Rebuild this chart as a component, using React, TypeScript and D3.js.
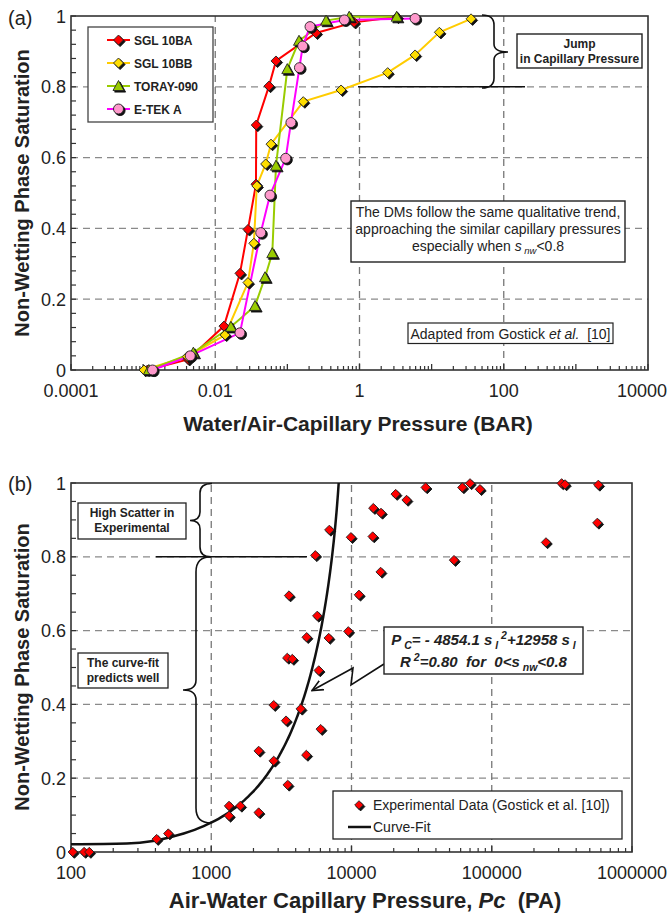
import React from "react";
import * as d3 from "d3";

const FONT = "'Liberation Sans', Arial, Helvetica, sans-serif";

// ---------- Panel (a): drainage curves of four diffusion media (pressure in bar) ----------
const aXTickValues = [1e-4, 1e-2, 1, 1e2, 1e4];
const aXTickLabels = ["0.0001", "0.01", "1", "100", "10000"];
const yTickValues = [0, 0.2, 0.4, 0.6, 0.8, 1];
const yTickLabels = ["0", "0.2", "0.4", "0.6", "0.8", "1"];

const sgl10baP = [0.00115, 0.0042, 0.0132, 0.022, 0.0284, 0.0367, 0.037, 0.0556, 0.0695, 0.249, 0.84, 3.3];
const sgl10baS = [0, 0.03, 0.124, 0.273, 0.397, 0.525, 0.692, 0.802, 0.873, 0.952, 0.982, 0.997];

const sgl10bbP = [0.00103, 0.0041, 0.0137, 0.0284, 0.0343, 0.0377, 0.05, 0.0593, 0.166, 0.555, 2.46, 5.9, 12.8, 35.2];
const sgl10bbS = [0, 0.038, 0.099, 0.247, 0.358, 0.52, 0.582, 0.638, 0.758, 0.791, 0.84, 0.89, 0.954, 0.992];

const toray090P = [0.0012, 0.00497, 0.0165, 0.0356, 0.049, 0.0618, 0.0695, 0.0998, 0.145, 0.344, 0.72, 3.28];
const toray090S = [0, 0.049, 0.122, 0.181, 0.262, 0.33, 0.577, 0.85, 0.93, 0.987, 0.998, 0.998];

const etekAP = [0.00135, 0.0045, 0.022, 0.0427, 0.0574, 0.0948, 0.112, 0.147, 0.163, 0.206, 0.617, 5.9];
const etekAS = [0, 0.04, 0.105, 0.388, 0.494, 0.598, 0.699, 0.854, 0.915, 0.97, 0.989, 0.993];

const seriesNames = ["SGL 10BA", "SGL 10BB", "TORAY-090", "E-TEK A"];
const seriesP = [sgl10baP, sgl10bbP, toray090P, etekAP];
const seriesS = [sgl10baS, sgl10bbS, toray090S, etekAS];
const seriesLine = ["#ff0000", "#ffcc00", "#99cc00", "#ff00ff"];
const seriesFill = ["#ff0000", "#ffdd00", "#99cc00", "#ff99cc"];
const seriesShape = ["diamond", "diamond", "triangle", "circle"];

// ---------- Panel (b): experimental points and quadratic curve-fit (pressure in Pa) ----------
const bXTickValues = [100, 1000, 10000, 100000, 1000000];
const bXTickLabels = ["100", "1000", "10000", "100000", "1000000"];

const expP = [103, 124, 135, 408, 494, 1339, 1339, 1611, 2178, 2178, 2788, 2788, 3508, 3413, 4344,
  4763, 6030, 5838, 3483, 3784, 4790, 6876, 9490, 5700, 3585, 11300, 16130, 5520, 6950, 9910,
  14160, 14310, 16230, 20650, 24700, 33800, 53800, 61700, 70000, 82400, 243600, 315000, 333000,
  566000, 575000];
const expS = [0, 0, 0, 0.035, 0.05, 0.125, 0.098, 0.125, 0.107, 0.274, 0.247, 0.398, 0.182, 0.356, 0.388,
  0.263, 0.333, 0.492, 0.526, 0.523, 0.582, 0.58, 0.598, 0.64, 0.695, 0.697, 0.759, 0.804, 0.873, 0.853,
  0.855, 0.932, 0.919, 0.97, 0.954, 0.988, 0.791, 0.988, 0.999, 0.983, 0.839, 0.999, 0.996,
  0.892, 0.995];

// Pc = fitA * s^2 + fitB * s
const fitA = -4854.1;
const fitB = 12958;
const fitTailP = [100, 250];
const fitTailS = [0.021, 0.023];
const fitS = d3.range(0.03, 1.0001, 0.01);

function logTicks(lo: number, hi: number) {
  const major: number[] = [];
  const minor: number[] = [];
  for (let e = lo; e < hi; e++) {
    major.push(10 ** e);
    for (let k = 2; k < 10; k++) minor.push(k * 10 ** e);
  }
  major.push(10 ** hi);
  return { major, minor };
}

function MarkerShape({ shape, x, y, fill, r = 5 }: { shape: string; x: number; y: number; fill: string; r?: number }) {
  const body = (dx: number, dy: number, f: string, stroke: string) => {
    if (shape === "circle") return <circle cx={x + dx} cy={y + dy} r={r} fill={f} stroke={stroke} strokeWidth={0.9} />;
    let d = "";
    if (shape === "diamond") d = `M0,${-r}L${r},0L0,${r}L${-r},0Z`;
    else d = `M0,${-r * 1.1}L${r * 1.1},${r * 0.9}L${-r * 1.1},${r * 0.9}Z`;
    return <path d={d} transform={`translate(${x + dx},${y + dy})`} fill={f} stroke={stroke} strokeWidth={0.9} />;
  };
  return (
    <g>
      {body(1.6, 1.6, "#111", "#111")}
      {body(0, 0, fill, "#222")}
    </g>
  );
}

function Axes({ x, y, xTicks, xLabels, yMinorStep, decades, gridX }: any) {
  const [x0, x1] = x.range();
  const [y0, y1] = y.range();
  const { major, minor } = logTicks(decades[0], decades[1]);
  const yMinor = d3.range(0, 1.0001, yMinorStep);
  return (
    <g>
      {/* grid */}
      {[0.2, 0.4, 0.6, 0.8].map((v) => (
        <line key={"gy" + v} x1={x0} x2={x1} y1={y(v)} y2={y(v)} stroke="#8a8a8a" strokeWidth={1.3} strokeDasharray="7,5" />
      ))}
      {gridX.map((v: number) => (
        <line key={"gx" + v} x1={x(v)} x2={x(v)} y1={y0} y2={y1} stroke="#777" strokeWidth={1.3} strokeDasharray="7,5" />
      ))}
      {/* ticks */}
      {minor.map((v) => (
        <line key={"mx" + v} x1={x(v)} x2={x(v)} y1={y0} y2={y0 - 4} stroke="#333" strokeWidth={1.2} />
      ))}
      {major.map((v) => (
        <line key={"Mx" + v} x1={x(v)} x2={x(v)} y1={y0} y2={y0 - 6} stroke="#333" strokeWidth={1.3} />
      ))}
      {yMinor.map((v: number) => (
        <line key={"my" + v} x1={x0} x2={x0 + 5} y1={y(v)} y2={y(v)} stroke="#333" strokeWidth={1.2} />
      ))}
      {/* labels: the last one is kept inside the page edge */}
      {xTicks.map((v: number, i: number) => {
        const last = i === xTicks.length - 1 && x(v) + 26 > 668;
        return (
          <text key={"lx" + v} x={last ? 667 : x(v)} y={y0 + 27} textAnchor={last ? "end" : "middle"} fontSize={18} fontFamily={FONT} fill="#222">
            {xLabels[i]}
          </text>
        );
      })}
      {yTickValues.map((v, i) => (
        <text key={"ly" + v} x={x0 - 5} y={y(v) + 6.5} textAnchor="end" fontSize={18} fontFamily={FONT} fill="#222">
          {yTickLabels[i]}
        </text>
      ))}
      <rect x={x0} y={y1} width={x1 - x0} height={y0 - y1} fill="none" stroke="#333" strokeWidth={1.6} />
    </g>
  );
}

export default function App() {
  const ax = d3.scaleLog().domain([1e-4, 1e4]).range([71, 648]);
  const ay = d3.scaleLinear().domain([0, 1]).range([370, 16]);
  const bx = d3.scaleLog().domain([100, 1e6]).range([71, 632]);
  const by = d3.scaleLinear().domain([0, 1]).range([852, 483]);

  const seriesPath = (k: number) =>
    d3.line<number>()
      .x((_, i) => ax(seriesP[k][i]))
      .y((_, i) => ay(seriesS[k][i]))(seriesS[k]) as string;

  const fitPts: [number, number][] = [
    ...fitTailP.map((p, i) => [p, fitTailS[i]] as [number, number]),
    ...fitS.map((s) => [fitA * s * s + fitB * s, s] as [number, number]),
  ];
  const fitPath = d3.line<[number, number]>()
    .x((d) => bx(d[0]))
    .y((d) => by(d[1]))
    .curve(d3.curveMonotoneX)(fitPts) as string;

  const legendY = [40, 63, 86, 109];

  return (
    <svg width={668} height={917} style={{ position: "absolute", left: 0, top: 0, background: "#fff" }} fontFamily={FONT}>
      <defs>
        <marker id="arrowHead" viewBox="0 0 12 12" refX="11" refY="6" markerWidth="12" markerHeight="12" markerUnits="userSpaceOnUse" orient="auto">
          <path d="M0,1 L11,6 L0,11" fill="none" stroke="#111" strokeWidth={1.6} />
        </marker>
      </defs>
      <rect x={0} y={0} width={668} height={917} fill="#fff" />

      {/* ================= Panel (a) ================= */}
      <text x={8} y={25} fontSize={20} fill="#222">(a)</text>
      <Axes x={ax} y={ay} xTicks={aXTickValues} xLabels={aXTickLabels} yMinorStep={0.04} decades={[-4, 4]} gridX={[1e-2, 1, 1e2]} />

      {seriesNames.map((_, k) => (
        <path key={"sl" + k} d={seriesPath(k)} fill="none" stroke={seriesLine[k]} strokeWidth={2} />
      ))}
      {seriesNames.map((_, k) => (
        <g key={"sm" + k}>
          {seriesS[k].map((s, i) => (
            <MarkerShape key={i} shape={seriesShape[k]} x={ax(seriesP[k][i])} y={ay(s)} fill={seriesFill[k]} />
          ))}
        </g>
      ))}

      {/* legend */}
      <rect x={88} y={27} width={125} height={95} fill="#fff" stroke="#444" strokeWidth={1.3} />
      {seriesNames.map((name, k) => (
        <g key={"lg" + k}>
          <line x1={107} x2={130} y1={legendY[k]} y2={legendY[k]} stroke={seriesLine[k]} strokeWidth={2} />
          <MarkerShape shape={seriesShape[k]} x={118.5} y={legendY[k]} fill={seriesFill[k]} />
          <text x={134} y={legendY[k] + 4.5} fontSize={12} fontWeight="bold" fill="#222">{name}</text>
        </g>
      ))}

      {/* jump annotation */}
      <line x1={358} x2={525} y1={ay(0.8)} y2={ay(0.8)} stroke="#111" strokeWidth={1.6} />
      <path d="M482,15 Q494,15 494,25 L494,44 Q494,52 508,52 Q494,52 494,60 L494,78 Q494,88 482,88" fill="none" stroke="#111" strokeWidth={1.6} />
      <rect x={517} y={34} width={125} height={34} fill="#fff" stroke="#222" strokeWidth={1.4} />
      <text x={579.5} y={48} textAnchor="middle" fontSize={12} fontWeight="bold" fill="#222">Jump</text>
      <text x={579.5} y={63} textAnchor="middle" fontSize={12} fontWeight="bold" fill="#222">in Capillary Pressure</text>

      <rect x={351} y={201} width={274} height={61} fill="#fff" stroke="#222" strokeWidth={1.4} />
      <text x={488} y={217} textAnchor="middle" fontSize={14} fill="#222">The DMs follow the same qualitative trend,</text>
      <text x={488} y={234} textAnchor="middle" fontSize={14} fill="#222">approaching the similar capillary pressures</text>
      <text x={488} y={251} textAnchor="middle" fontSize={14} fill="#222">
        especially when <tspan fontStyle="italic">s</tspan>
        <tspan fontStyle="italic" fontSize={9.5} dy={3}> nw</tspan>
        <tspan dy={-3}>&lt;0.8</tspan>
      </text>

      <rect x={408} y={323} width={205} height={20.5} fill="#fff" stroke="#222" strokeWidth={1.2} />
      <text x={510.5} y={338.5} textAnchor="middle" fontSize={14} fill="#222">
        Adapted from Gostick <tspan fontStyle="italic">et al.</tspan>{"\u00a0 [10]"}
      </text>

      <text x={358} y={431} textAnchor="middle" fontSize={21} fontWeight="bold" fill="#222">Water/Air-Capillary Pressure (BAR)</text>
      <text transform="translate(29,193) rotate(-90)" textAnchor="middle" fontSize={20} fontWeight="bold" fill="#222">Non-Wetting Phase Saturation</text>

      {/* ================= Panel (b) ================= */}
      <text x={8} y={491} fontSize={20} fill="#222">(b)</text>
      <Axes x={bx} y={by} xTicks={bXTickValues} xLabels={bXTickLabels} yMinorStep={0.05} decades={[2, 6]} gridX={[1000, 10000, 100000]} />

      <path d={fitPath} fill="none" stroke="#111" strokeWidth={2.5} />

      {/* scatter / fit annotations */}
      <line x1={156} x2={307} y1={by(0.8)} y2={by(0.8)} stroke="#111" strokeWidth={1.6} />
      <path d="M212,483.5 Q200,483.5 200,493 L200,512 Q200,520.5 190,520.5 Q200,520.5 200,529 L200,547 Q200,556.8 211,556.8" fill="none" stroke="#111" strokeWidth={1.6} />
      <path d="M211,556.8 Q196,556.8 196,572 L196,680 Q196,690 183,690 Q196,690 196,700 L196,808 Q196,823 211,823" fill="none" stroke="#111" strokeWidth={1.6} />

      <rect x={78} y={503} width={108} height={36} fill="#fff" stroke="#222" strokeWidth={1.3} />
      <text x={132} y={517} textAnchor="middle" fontSize={12} fontWeight="bold" fill="#222">High Scatter in</text>
      <text x={132} y={532} textAnchor="middle" fontSize={12} fontWeight="bold" fill="#222">Experimental</text>

      <rect x={78} y={653} width={90} height={35} fill="#fff" stroke="#222" strokeWidth={1.3} />
      <text x={123} y={667} textAnchor="middle" fontSize={12} fontWeight="bold" fill="#222">The curve-fit</text>
      <text x={123} y={682} textAnchor="middle" fontSize={12} fontWeight="bold" fill="#222">predicts well</text>

      {expS.map((s, i) => (
        <MarkerShape key={"e" + i} shape="diamond" x={bx(expP[i])} y={by(s)} fill="#ff0000" r={4.7} />
      ))}

      <polyline points="384,664 351,685 353,668 312,690.5" fill="none" stroke="#111" strokeWidth={1.6} markerEnd="url(#arrowHead)" />
      <rect x={384} y={627} width={199} height={47} fill="#fff" stroke="#222" strokeWidth={1.4} />
      <text x={483.5} y={645} textAnchor="middle" fontSize={15} fontWeight="bold" fontStyle="italic" fill="#222">
        P<tspan fontSize={10.5} dy={4}> C</tspan>
        <tspan dy={-4}>= - 4854.1 s</tspan>
        <tspan fontSize={10.5} dy={4}> l</tspan>
        <tspan fontSize={10.5} dy={-10}> 2</tspan>
        <tspan dy={6}>+12958 s</tspan>
        <tspan fontSize={10.5} dy={4}> l</tspan>
      </text>
      <text x={483.5} y={667} textAnchor="middle" fontSize={15} fontWeight="bold" fontStyle="italic" fill="#222">
        R<tspan fontSize={10.5} dy={-6}> 2</tspan>
        <tspan dy={6}>=0.80{"\u00a0 "}for{"\u00a0 "}0&lt;s</tspan>
        <tspan fontSize={10.5} dy={4}> nw</tspan>
        <tspan dy={-4}>&lt;0.8</tspan>
      </text>

      {/* legend */}
      <rect x={333} y={791} width={289} height={48} fill="#fff" stroke="#222" strokeWidth={1.3} />
      <MarkerShape shape="diamond" x={359} y={805} fill="#ff0000" r={4.3} />
      <text x={373} y={810} fontSize={14} fill="#222">Experimental Data (Gostick et al. [10])</text>
      <line x1={348} x2={371} y1={827} y2={827} stroke="#111" strokeWidth={2.5} />
      <text x={373} y={832} fontSize={14} fill="#222">Curve-Fit</text>

      <text x={365} y={908} textAnchor="middle" fontSize={22} fontWeight="bold" fill="#222">
        Air-Water Capillary Pressure, <tspan fontStyle="italic">Pc</tspan>{"\u00a0 (PA)"}
      </text>
      <text transform="translate(29,667) rotate(-90)" textAnchor="middle" fontSize={20} fontWeight="bold" fill="#222">Non-Wetting Phase Saturation</text>
    </svg>
  );
}
